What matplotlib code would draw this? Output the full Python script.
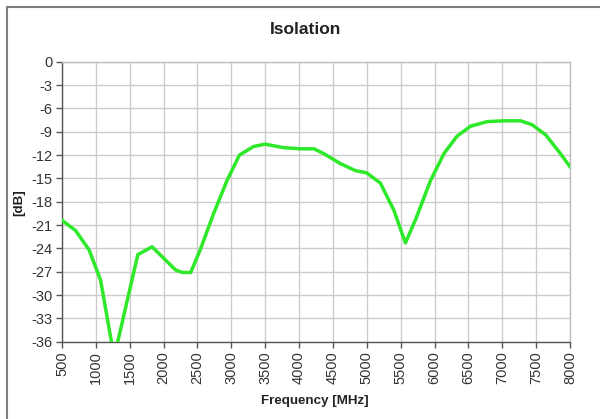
import matplotlib
matplotlib.use("Agg")
import matplotlib.pyplot as plt
from matplotlib.patches import Rectangle

freq_mhz = [500, 700, 900, 1070, 1270, 1620, 1830, 2180, 2280, 2400, 2540,
            2740, 2940, 3120, 3330, 3500, 3770, 4020, 4220, 4360, 4610, 4830,
            5000, 5200, 5400, 5570, 5720, 5940, 6140, 6330, 6530, 6780, 7020,
            7270, 7440, 7640, 7840, 8000]
isolation_db = [-20.4, -21.7, -24.2, -28.1, -38.0, -24.8, -23.8, -26.8, -27.1,
                -27.1, -24.2, -19.5, -15.2, -12.0, -10.9, -10.6, -11.05, -11.2,
                -11.2, -11.8, -13.1, -14.0, -14.3, -15.6, -19.1, -23.3, -20.3,
                -15.3, -11.8, -9.6, -8.3, -7.7, -7.6, -7.6, -8.1, -9.4, -11.6,
                -13.5]
x_ticks = list(range(500, 8001, 500))
y_ticks = list(range(-36, 1, 3))

plt.rcParams['font.family'] = ['Liberation Sans', 'DejaVu Sans']

fig = plt.figure(figsize=(6.0, 4.19), dpi=100)
ax = fig.add_axes([62/600, 1 - 341.7/419, (570 - 62)/600, (341.7 - 61.7)/419])

# outer frame
fig.patches.append(Rectangle((7/600, -0.05), 1.0, 1 - 7/419 + 0.05,
                             transform=fig.transFigure, fill=False,
                             edgecolor='#7f7f7f', linewidth=1.5))

ax.plot(freq_mhz, isolation_db, color='#2ee82a', linewidth=2.5,
        solid_joinstyle='round', zorder=3)

ax.set_xlim(500, 8000)
ax.set_ylim(-36, 0)
ax.set_xticks(x_ticks)
ax.set_yticks(y_ticks)
ax.set_xticklabels([str(v) for v in x_ticks], rotation=90)
ax.set_yticklabels([str(v) for v in y_ticks])
ax.grid(True, color='#cccccc', linewidth=1.0)
ax.set_axisbelow(True)

for side in ['top', 'right']:
    ax.spines[side].set_color('#bfbfbf')
    ax.spines[side].set_linewidth(1.0)
for side in ['left', 'bottom']:
    ax.spines[side].set_color('#555555')
    ax.spines[side].set_linewidth(1.0)

ax.tick_params(axis='both', direction='out', length=4, width=1,
               color='#555555', labelsize=10.5, labelcolor='#333333', pad=3)

fig.text(306/600, 1 - 30/419, 'Isolation', ha='center', va='center',
         fontsize=12.5, fontweight='bold', color='#222222')
fig.text(315/600, 1 - 401/419, 'Frequency [MHz]', ha='center', va='center',
         fontsize=9.6, fontweight='bold', color='#222222')
fig.text(19/600, 1 - 203/419, '[dB]', ha='center', va='center',
         rotation=90, fontsize=9.6, fontweight='bold', color='#222222')

fig.savefig('out.png', dpi=100)
